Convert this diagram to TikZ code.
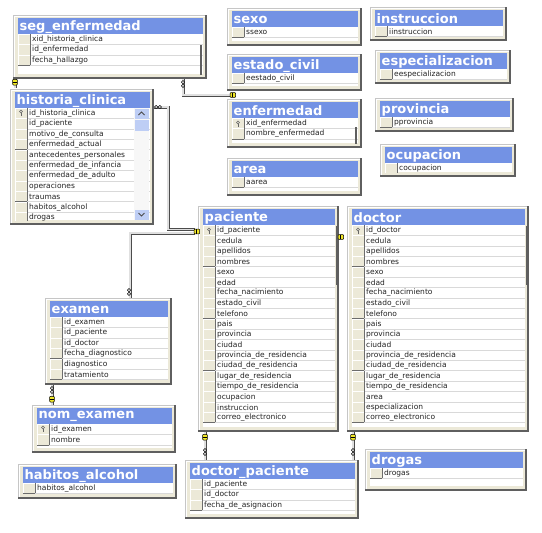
\documentclass[tikz,border=0pt]{standalone}
\usepackage{fontspec}
\newfontfamily\tfont{DejaVu Sans}
\newfontfamily\rfont{DejaVu Sans}
\definecolor{titleblue}{RGB}{115,146,228}
\definecolor{framec}{RGB}{236,233,216}
\definecolor{selc}{RGB}{236,233,216}
\definecolor{shadowc}{RGB}{95,95,95}
\definecolor{rowtxt}{RGB}{35,35,35}
\definecolor{keyyel}{RGB}{240,230,40}
\definecolor{scrollb}{RGB}{190,206,245}
\tikzset{
  tabframe/.style={draw=gray!45, fill=framec, inner sep=0pt, outer sep=0pt},
  titletext/.style={text=white, font=\tfont\bfseries\fontsize{13}{13}\selectfont, inner sep=0pt},
  rowtext/.style={text=rowtxt, font=\rfont\fontsize{7.5}{8}\selectfont, inner sep=0pt},
  rel/.style={draw=black!70, double=black!12, double distance=1.4pt, line width=0.8pt},
}
\newcommand\dbtab[7]{%
  \pgfmathsetmacro\tw{#4-#2+8}\pgfmathsetmacro\th{#5-#3+3}%
  \node[tabframe, minimum width=\tw pt, minimum height=\th pt, anchor=north west] (#1) at (#2-5,#3-3) {};
  \draw[white] (#2-4,#5-1) -- (#2-4,#3-2) -- (#4+2,#3-2);
  \fill[titleblue] (#2,#3) rectangle (#4,#3+16);
  \node[titletext, anchor=west] (#1-title) at (#2+1.5,#3+8.8) {#6};
  \fill[white] (#2,#3+16) rectangle (#4,#5-4);
  \begin{scope}
  \clip (#2,#3+16) rectangle (#4,#5-4);
  \foreach \r [count=\i] in {#7} {
    \pgfmathsetmacro\ya{#3+16+(\i-1)*10.4}
    \fill[selc] (#2,\ya) rectangle (#2+12,\ya+10.4);
    \draw[white, line width=0.5pt] (#2+0.3,\ya+10.1) -- (#2+0.3,\ya+0.3) -- (#2+11.7,\ya+0.3);
    \draw[gray!85!black, line width=0.5pt] (#2+12,\ya) -- (#2+12,\ya+10.4) -- (#2,\ya+10.4);
    \draw[gray!30] (#2+12,\ya+10.4) -- (#4,\ya+10.4);
    \node[rowtext, anchor=west] (#1-r\i) at (#2+14,\ya+5.6) {\r};
  }
  \end{scope}
  \draw[shadowc, line width=1.6pt] (#4+3.2,#3-3) -- (#4+3.2,#5) -- (#2-5,#5);
}
\newcommand\keyicon[2]{%
  \draw[black!60, line width=0.55pt] (#1,#2-1.6) circle (1.5);
  \draw[black!60, line width=0.55pt] (#1,#2-0.1) -- (#1,#2+3.2) (#1,#2+1.6) -- (#1+1.3,#2+1.6);
}
\newcommand\vkey[2]{%
  \filldraw[fill=keyyel, draw=black, line width=0.5pt, rounded corners=0.8pt] (#1-2.4,#2-2.6) rectangle (#1+2.4,#2+3);
  \draw[black, line width=0.7pt] (#1-2.4,#2+0.8) -- (#1+2.4,#2+0.8);
}
\newcommand\hkey[2]{%
  \filldraw[fill=keyyel, draw=black, line width=0.5pt, rounded corners=0.8pt] (#1-3,#2-2.4) rectangle (#1+2.6,#2+2.4);
  \draw[black, line width=0.7pt] (#1-0.8,#2-2.4) -- (#1-0.8,#2+2.4);
}
\newcommand\vinf[2]{%
  \filldraw[fill=white, draw=black, line width=0.55pt] (#1,#2-1.8) circle (1.6) (#1,#2+1.8) circle (1.6);
}
\newcommand\hinf[2]{%
  \filldraw[fill=white, draw=black, line width=0.55pt] (#1-1.8,#2) circle (1.6) (#1+1.8,#2) circle (1.6);
}
\begin{document}
\begin{tikzpicture}[x=1pt,y=-1pt]
\useasboundingbox (0,0) rectangle (542,533);
\fill[white] (0,0) rectangle (542,533);

% ---- connectors (behind tables) ----
\coordinate (segA) at (183,78);
\coordinate (segB) at (230,95);
\draw[rel] (segA) |- (segB);
\coordinate (hcA) at (151,107);
\coordinate (hcV) at (168,107);
\coordinate (hcB) at (195,229.5);
\draw[rel] (hcA) -- (hcV) |- (hcB);
\coordinate (exA) at (130,300);
\coordinate (exB) at (195,233);
\draw[rel] (exA) |- (exB);
\coordinate (nmA) at (52,384);
\coordinate (nmB) at (52,406);
\draw[rel] (nmA) -- (nmB);
\coordinate (dpA) at (205,430);
\coordinate (dpB) at (205,461);
\draw[rel] (dpA) -- (dpB);
\coordinate (ddA) at (353,430);
\coordinate (ddB) at (353,461);
\draw[rel] (ddA) -- (ddB);
\coordinate (shA) at (15,78);
\coordinate (shB) at (15,88);
\draw[rel] (shA) -- (shB);

% ---- tables ----
\dbtab{seg}{18}{18}{203}{78}{seg\_enfermedad}{xid\_historia\_clinica,id\_enfermedad,fecha\_hallazgo}
\draw[shadowc, line width=1.6pt] (201,45) -- (201,75);

\dbtab{hc}{15}{92}{150}{224}{historia\_clinica}{id\_historia\_clinica,id\_paciente,motivo\_de\_consulta,enfermedad\_actual,antecedentes\_personales,enfermedad\_de\_infancia,enfermedad\_de\_adulto,operaciones,traumas,habitos\_alcohol,drogas}
\keyicon{21}{113}
% scrollbar
\fill[white!94!gray] (134,108) rectangle (149,220);
\fill[scrollb] (134.5,108.5) rectangle (148.5,118.5);
\draw[black!70, line width=0.8pt] (138.5,115) -- (141.5,112) -- (144.5,115);
\fill[scrollb] (134.5,119.5) rectangle (148.5,131);
\fill[scrollb] (134.5,209.5) rectangle (148.5,219.5);
\draw[black!70, line width=0.8pt] (138.5,213) -- (141.5,216) -- (144.5,213);

\dbtab{sexo}{232}{11}{358}{45}{sexo}{ssexo}
\dbtab{ec}{232}{57}{358}{90}{estado\_civil}{eestado\_civil}
\dbtab{enf}{232}{102}{358}{147}{enfermedad}{xid\_enfermedad,nombre\_enfermedad}
\keyicon{238}{124}
\draw[shadowc, line width=1.6pt] (356,127) -- (356,144);
\dbtab{area}{232}{161}{358}{195}{area}{aarea}

\dbtab{instr}{375}{10}{503}{40}{instruccion}{iinstruccion}
\dbtab{esp}{380}{53}{507}{83}{especializacion}{eespecializacion}
\dbtab{prov}{380}{101}{510}{131}{provincia}{pprovincia}
\dbtab{ocup}{385}{147}{512}{176}{ocupacion}{cocupacion}

\dbtab{pac}{203}{209}{335}{431}{paciente}{id\_paciente,cedula,apellidos,nombres,sexo,edad,fecha\_nacimiento,estado\_civil,telefono,pais,provincia,ciudad,provincia\_de\_residencia,ciudad\_de\_residencia,lugar\_de\_residencia,tiempo\_de\_residencia,ocupacion,instruccion,correo\_electronico}
\keyicon{209}{231}
\draw[shadowc, line width=1.6pt] (337,226) -- (337,285);

\dbtab{doc}{352}{209}{525}{431}{doctor}{id\_doctor,cedula,apellidos,nombres,sexo,edad,fecha\_nacimiento,estado\_civil,telefono,pais,provincia,ciudad,provincia\_de\_residencia,ciudad\_de\_residencia,lugar\_de\_residencia,tiempo\_de\_residencia,area,especializacion,correo\_electronico}
\keyicon{358}{231}
\draw[shadowc, line width=1.6pt] (527,226) -- (527,285);

\dbtab{exa}{50}{301}{168}{384}{examen}{id\_examen,id\_paciente,id\_doctor,fecha\_diagnostico,diagnostico,tratamiento}
\dbtab{nom}{37}{408}{172}{452}{nom\_examen}{id\_examen,nombre}
\keyicon{43}{429}
\dbtab{hab}{23}{467}{173}{498}{habitos\_alcohol}{habitos\_alcohol}
\dbtab{dp}{190}{463}{355}{518}{doctor\_paciente}{id\_paciente,id\_doctor,fecha\_de\_asignacion}
\dbtab{dro}{370}{452}{523}{490}{drogas}{drogas}

% ---- relationship end markers ----
\vkey{15}{82}
\vinf{183}{84}
\hkey{233}{95}
\hinf{158}{107}
\hkey{197}{231.5}
\vinf{129}{292}
\hkey{341}{237}
\vinf{52}{390}
\vkey{52}{399}
\vkey{205}{437}
\vinf{205}{452}
\vkey{353}{437}
\vinf{353}{452}
\end{tikzpicture}
\end{document}
